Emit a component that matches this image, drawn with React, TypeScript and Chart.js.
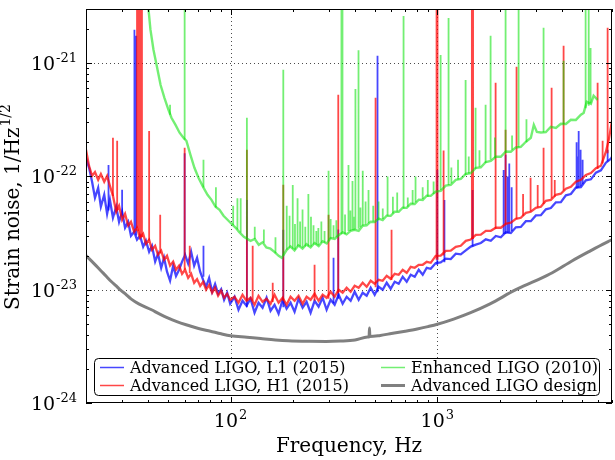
import React, { useEffect, useRef } from 'react';
import { Chart, registerables } from 'chart.js';

Chart.register(...registerables);

const SERIF = '"DejaVu Serif", "Liberation Serif", serif';

// ---- axes ----
const freqMin = 20;
const freqMax = 7000;
const asdMin = 1e-24;
const asdMax = 3e-21;

const xMajorTicks = [100, 1000];
const xMajorExp = ['2', '3'];
const xMinorTicks = [20, 30, 40, 50, 60, 70, 80, 90, 200, 300, 400, 500, 600, 700, 800, 900, 2000, 3000, 4000, 5000, 6000, 7000];
const yMajorTicks = [1e-24, 1e-23, 1e-22, 1e-21];
const yMajorExp = ['-24', '-23', '-22', '-21'];
const yMinorTicks = [
  2e-24, 3e-24, 4e-24, 5e-24, 6e-24, 7e-24, 8e-24, 9e-24,
  2e-23, 3e-23, 4e-23, 5e-23, 6e-23, 7e-23, 8e-23, 9e-23,
  2e-22, 3e-22, 4e-22, 5e-22, 6e-22, 7e-22, 8e-22, 9e-22,
  2e-21, 3e-21,
];

const xTitle = 'Frequency, Hz';
const yTitle = 'Strain noise, 1/Hz';
const yTitleSup = '1/2';

const seriesLabels = ['Advanced LIGO, L1 (2015)', 'Advanced LIGO, H1 (2015)', 'Enhanced LIGO (2010)', 'Advanced LIGO design'];

// ---- Advanced LIGO L1, 2015 ----
const l1Hz = [
  20.0, 20.7, 21.4, 22.1, 22.9, 23.6, 24.5, 25.3, 26.1, 27.0, 28.0, 28.9, 29.9, 30.9, 32.0, 33.0, 34.2, 35.3, 36.5, 37.8,
  39.0, 40.4, 41.7, 43.2, 44.6, 46.2, 47.7, 49.3, 51.0, 52.8, 54.5, 56.4, 58.3, 60.3, 62.4, 64.5, 66.7, 68.9, 71.3, 73.7,
  76.2, 78.8, 81.5, 84.2, 87.1, 90.1, 93.1, 96.3, 99.6,
  104.6, 109.3, 114.3, 119.5, 125.0, 130.7, 136.6, 142.9, 149.4, 156.2, 163.3, 170.8, 178.6, 186.7, 195.2, 204.1, 213.4,
  223.2, 233.3, 244.0, 255.1, 266.7, 278.9, 291.6, 305.0, 318.9, 333.4, 348.6, 364.5, 381.1, 398.5, 416.7, 435.7, 455.5,
  476.3, 498.0, 520.7, 544.5, 569.3, 595.3, 622.4, 650.8, 680.5, 711.5, 744.0, 777.9, 813.4, 850.5, 889.2, 929.8,
  983, 1039, 1099, 1162, 1229, 1299, 1374, 1452, 1536, 1624, 1717, 1815, 1919, 2029, 2146, 2269, 2399, 2536, 2682, 2835,
  2998, 3170, 3351, 3543, 3747, 3961, 4188, 4428, 4682, 4951, 5234, 5534, 5852, 6187, 6542, 6917, 7000,
];
const l1Asd = [
  1.46e-22, 1.19e-22, 8.96e-23, 6.47e-23, 7.93e-23, 5.39e-23, 6.88e-23, 4.67e-23, 6.21e-23, 4.31e-23, 5.39e-23, 3.97e-23,
  4.87e-23, 3.52e-23, 3.97e-23, 2.99e-23, 3.24e-23, 2.76e-23, 2.99e-23, 2.39e-23, 2.70e-23, 2.16e-23, 2.44e-23, 1.77e-23,
  2.07e-23, 1.56e-23, 1.91e-23, 1.44e-23, 1.20e-23, 1.63e-23, 1.32e-23, 1.50e-23, 1.77e-23, 2.03e-23, 1.70e-23, 2.16e-23,
  1.63e-23, 1.91e-23, 1.44e-23, 1.22e-23, 1.06e-23, 1.27e-23, 9.58e-24, 1.12e-23, 9.20e-24, 1.01e-23, 8.15e-24, 9.39e-24,
  7.51e-24,
  8.66e-24, 6.65e-24, 7.98e-24, 7.21e-24, 8.32e-24, 6.26e-24, 7.67e-24, 6.93e-24, 8.49e-24, 6.52e-24, 7.36e-24, 6.13e-24,
  8.15e-24, 6.79e-24, 7.67e-24, 6.39e-24, 8.32e-24, 6.93e-24, 7.82e-24, 6.26e-24, 7.98e-24, 7.07e-24, 8.49e-24, 6.65e-24,
  8.15e-24, 7.36e-24, 9.02e-24, 7.51e-24, 8.66e-24, 7.98e-24, 9.59e-24, 8.15e-24, 9.39e-24, 8.84e-24, 1.04e-23, 9.02e-24,
  1.061e-23, 9.98e-24, 1.151e-23, 1.019e-23, 1.175e-23, 1.128e-23, 1.30e-23, 1.175e-23, 1.354e-23, 1.30e-23, 1.499e-23,
  1.354e-23, 1.561e-23, 1.53e-23,
  1.72e-23, 1.74e-23, 1.88e-23, 1.86e-23, 2.08e-23, 2.05e-23, 2.22e-23, 2.40e-23, 2.50e-23, 2.58e-23, 2.78e-23, 2.70e-23,
  2.98e-23, 2.90e-23, 3.22e-23, 3.16e-23, 3.55e-23, 3.58e-23, 4.02e-23, 4.02e-23, 4.52e-23, 4.55e-23, 5.12e-23, 5.25e-23,
  5.90e-23, 5.92e-23, 6.80e-23, 6.98e-23, 7.98e-23, 8.05e-23, 9.22e-23, 9.42e-23, 1.08e-22, 1.13e-22, 1.32e-22, 1.43e-22,
  1.49e-22,
];
// narrow spectral lines: frequency, floor, peak
const l1LineHz = [25.7, 29.9, 34.3, 35.0, 60, 74, 120, 180, 315, 332, 514, 1000, 1083, 1482, 2094, 2140, 2190, 2230, 2290, 4719, 4780, 4830, 4935, 5047, 6667];
const l1LineFloor = [5.0e-23, 4.5e-23, 3.2e-23, 3.0e-23, 2.0e-23, 1.3e-23, 7.0e-24, 7.0e-24, 7.6e-24, 8.3e-24, 9.5e-24, 1.65e-23, 1.75e-23, 2.4e-23, 3.1e-23, 3.1e-23, 3.15e-23, 3.2e-23, 3.3e-23, 7.8e-23, 7.9e-23, 8.0e-23, 8.2e-23, 8.5e-23, 1.35e-22];
const l1LinePeak = [1.26e-22, 7.62e-23, 1.97e-21, 1.74e-21, 1.6e-22, 2.44e-23, 6.2e-23, 3.38e-23, 1.91e-23, 3.4e-23, 1.16e-21, 1.14e-22, 6.2e-23, 7.6e-23, 1.14e-22, 1.55e-22, 1.0e-22, 1.30e-22, 8.0e-23, 2.0e-22, 1.5e-22, 2.52e-22, 1.72e-22, 1.40e-22, 1.72e-22];

// ---- Advanced LIGO H1, 2015 ----
const h1Hz = [
  20.0, 20.7, 21.4, 22.1, 22.9, 23.6, 24.5, 25.3, 26.1, 27.0, 28.0, 28.9, 29.9, 30.9, 32.0, 33.0, 34.2, 35.3, 36.5, 37.8,
  39.0, 40.4, 41.7, 43.2, 44.6, 46.2, 47.7, 49.3, 51.0, 52.8, 54.5, 56.4, 58.3, 60.3, 62.4, 64.5, 66.7, 68.9, 71.3, 73.7,
  76.2, 78.8, 81.5, 84.2, 87.1, 90.1, 93.1, 96.3, 99.6,
  104.6, 109.3, 114.3, 119.5, 125.0, 130.7, 136.6, 142.9, 149.4, 156.2, 163.3, 170.8, 178.6, 186.7, 195.2, 204.1, 213.4,
  223.2, 233.3, 244.0, 255.1, 266.7, 278.9, 291.6, 305.0, 318.9, 333.4, 348.6, 364.5, 381.1, 398.5, 416.7, 435.7, 455.5,
  476.3, 498.0, 520.7, 544.5, 569.3, 595.3, 622.4, 650.8, 680.5, 711.5, 744.0, 777.9, 813.4, 850.5, 889.2, 929.8,
  983, 1039, 1099, 1162, 1229, 1299, 1374, 1452, 1536, 1624, 1717, 1815, 1919, 2029, 2146, 2269, 2399, 2536, 2682, 2835,
  2998, 3170, 3351, 3543, 3747, 3961, 4188, 4428, 4682, 4951, 5234, 5534, 5852, 6187, 6542, 6750, 7000,
];
const h1Asd = [
  1.72e-22, 1.23e-22, 1.01e-22, 1.09e-22, 9.33e-23, 1.05e-22, 8.96e-23, 1.01e-22, 8.26e-23, 6.74e-23, 4.87e-23, 5.50e-23,
  4.14e-23, 4.67e-23, 3.67e-23, 3.97e-23, 3.24e-23, 3.52e-23, 2.87e-23, 3.12e-23, 2.54e-23, 2.76e-23, 2.25e-23, 2.44e-23,
  2.03e-23, 2.21e-23, 1.84e-23, 1.99e-23, 1.63e-23, 1.77e-23, 1.50e-23, 1.63e-23, 1.38e-23, 1.50e-23, 1.27e-23, 1.38e-23,
  1.15e-23, 1.24e-23, 1.08e-23, 1.17e-23, 9.98e-24, 1.10e-23, 9.39e-24, 1.04e-23, 8.84e-24, 9.78e-24, 8.49e-24, 9.20e-24,
  8.15e-24,
  8.66e-24, 7.67e-24, 9.02e-24, 7.98e-24, 8.49e-24, 7.36e-24, 8.84e-24, 7.82e-24, 8.32e-24, 7.51e-24, 9.02e-24, 7.67e-24,
  8.49e-24, 7.36e-24, 8.66e-24, 7.98e-24, 8.84e-24, 7.51e-24, 8.66e-24, 8.15e-24, 9.20e-24, 7.98e-24, 9.02e-24, 8.49e-24,
  9.59e-24, 8.66e-24, 9.98e-24, 9.39e-24, 1.04e-23, 9.59e-24, 1.083e-23, 1.04e-23, 1.151e-23, 1.061e-23, 1.199e-23,
  1.128e-23, 1.223e-23, 1.199e-23, 1.327e-23, 1.248e-23, 1.382e-23, 1.354e-23, 1.499e-23, 1.41e-23, 1.593e-23, 1.561e-23,
  1.659e-23, 1.659e-23, 1.763e-23, 1.727e-23,
  1.99e-23, 2.00e-23, 2.20e-23, 2.21e-23, 2.39e-23, 2.44e-23, 2.70e-23, 2.77e-23, 3.05e-23, 3.06e-23, 3.31e-23, 3.31e-23,
  3.52e-23, 3.52e-23, 3.82e-23, 3.90e-23, 4.22e-23, 4.31e-23, 4.76e-23, 4.87e-23, 5.27e-23, 5.39e-23, 6.09e-23, 6.21e-23,
  6.88e-23, 7.03e-23, 7.77e-23, 8.10e-23, 8.96e-23, 9.33e-23, 1.03e-22, 1.07e-22, 1.18e-22, 1.24e-22, 1.65e-22, 2.10e-22,
  3.09e-22,
];
const h1LineHz = [27.0, 28.3, 35.3, 35.9, 36.4, 36.9, 37.3, 40.4, 45.7, 60, 63.5, 120, 128, 160, 180, 255, 298, 332, 503, 601, 992, 1003, 1073, 1470, 1490, 1915, 2140, 2418, 2600, 2827, 3060, 3267, 3573, 3700, 4083, 5964, 6305, 6667];
const h1LineFloor = [6.7e-23, 5.0e-23, 3.5e-23, 3.3e-23, 3.0e-23, 2.9e-23, 2.9e-23, 2.7e-23, 2.1e-23, 1.5e-23, 1.4e-23, 8.0e-24, 8.0e-24, 7.8e-24, 8.0e-24, 8.0e-24, 8.3e-24, 9.3e-24, 1.05e-23, 1.22e-23, 1.84e-23, 1.84e-23, 2.0e-23, 2.8e-23, 2.8e-23, 3.45e-23, 3.75e-23, 4.2e-23, 4.5e-23, 4.9e-23, 5.3e-23, 5.7e-23, 6.4e-23, 6.6e-23, 7.5e-23, 1.16e-22, 1.3e-22, 1.6e-22];
const h1LinePeak = [2.19e-22, 2.06e-22, 5e-21, 5e-21, 5e-21, 5e-21, 5e-21, 2.52e-22, 4.58e-23, 1.79e-22, 2.44e-23, 1.72e-22, 2.44e-23, 1.15e-23, 8.43e-23, 1.66e-23, 4.58e-23, 5.25e-22, 4.94e-22, 3.38e-23, 5e-21, 5e-21, 1.69e-22, 5e-21, 5e-21, 6.70e-22, 2.58e-22, 9.27e-22, 7.0e-23, 9.73e-23, 8.4e-23, 1.79e-22, 6.05e-22, 9.3e-23, 1.42e-21, 6.70e-22, 2.06e-22, 2.05e-21];

// ---- Enhanced LIGO, 2010 ----
const s6Hz = [
  39.5, 41.0, 42.4, 43.9, 45.9, 47.9, 50.1, 51.8, 54.2, 56.7, 59.2, 61.2, 64.0, 66.9, 70.0, 74.0, 77.4, 80.9, 84.6, 88.5,
  92.5, 96.7, 101, 106, 110, 116, 125, 131, 137, 143, 149, 156, 163, 171, 177, 187, 195, 204, 213, 223, 233, 244, 255,
  267, 279, 292, 305, 319, 333, 349, 364, 381, 398.5, 416.7, 435.7, 455.5, 476.3, 498, 520.7, 544.5, 569.3, 595.3, 622.4,
  650.8, 680.5, 711.5, 744, 777.9, 813.4, 850.5, 889.2, 929.8, 983, 1039, 1099, 1162, 1229, 1299, 1374, 1452, 1536, 1624,
  1717, 1815, 1919, 2029, 2146, 2269, 2399, 2536, 2682, 2835, 2931, 3032, 3170, 3351, 3543, 3747, 3961, 4188, 4428, 4682,
  4951, 5104, 5284, 5534, 5704, 5964,
];
const s6Asd = [
  4.0e-21, 1.97e-21, 1.31e-21, 9.6e-22, 6.4e-22, 4.94e-22, 3.87e-22, 3.29e-22, 2.85e-22, 2.43e-22, 2.19e-22, 2.06e-22,
  1.55e-22, 1.19e-22, 9.73e-23, 7.96e-23, 6.88e-23, 6.21e-23, 5.39e-23, 5.07e-23, 4.49e-23, 4.14e-23, 3.82e-23, 3.52e-23,
  3.24e-23, 2.93e-23, 2.70e-23, 2.80e-23, 2.49e-23, 2.62e-23, 2.36e-23, 2.30e-23, 2.16e-23, 1.99e-23, 1.91e-23, 2.25e-23,
  2.41e-23, 2.22e-23, 2.46e-23, 2.30e-23, 2.52e-23, 2.36e-23, 2.58e-23, 2.42e-23, 2.68e-23, 2.56e-23, 2.85e-23, 2.80e-23,
  3.02e-23, 3.20e-23, 3.08e-23, 3.30e-23, 3.38e-23, 3.30e-23, 3.67e-23, 3.70e-23, 3.98e-23, 3.96e-23, 4.24e-23, 4.12e-23,
  4.50e-23, 4.48e-23, 4.88e-23, 4.86e-23, 5.29e-23, 5.27e-23, 5.74e-23, 5.71e-23, 6.23e-23, 6.20e-23, 6.76e-23, 6.73e-23,
  7.33e-23, 7.45e-23, 8.28e-23, 8.41e-23, 9.33e-23, 9.51e-23, 1.05e-22, 1.07e-22, 1.19e-22, 1.20e-22, 1.34e-22, 1.37e-22,
  1.49e-22, 1.49e-22, 1.66e-22, 1.65e-22, 1.80e-22, 1.82e-22, 2.02e-22, 2.19e-22, 2.85e-22, 2.47e-22, 2.44e-22, 2.46e-22,
  2.74e-22, 2.68e-22, 2.91e-22, 2.90e-22, 3.16e-22, 3.15e-22, 3.50e-22, 3.63e-22, 4.55e-22, 4.37e-22, 5.15e-22, 4.74e-22,
];
const s6LineHz = [
  51, 60, 74, 85, 103, 108, 112, 120, 131, 145, 165, 180, 187, 193, 200, 205, 211, 217, 223, 230, 238, 245, 252, 260, 266,
  275, 285, 298, 305, 315, 325, 344, 348, 358, 372, 380, 389, 395, 402, 416, 425, 436, 450, 465, 490, 520, 545, 575, 610,
  640, 687, 720, 760, 785, 850, 900, 960, 1038, 1134, 1170, 1260, 1371, 1420, 1532, 1600, 1713, 1811, 1900, 2140, 2300,
  2474, 2700, 3267, 4083, 5218, 5400, 5514,
];
const s6LineFloor = [
  3.5e-22, 2.1e-22, 7.96e-23, 5.3e-23, 3.7e-23, 3.4e-23, 3.2e-23, 2.8e-23, 2.8e-23, 2.6e-23, 2.1e-23, 2.0e-23, 2.25e-23,
  2.35e-23, 2.3e-23, 2.25e-23, 2.4e-23, 2.4e-23, 2.35e-23, 2.4e-23, 2.4e-23, 2.4e-23, 2.5e-23, 2.5e-23, 2.45e-23, 2.6e-23,
  2.6e-23, 2.7e-23, 2.8e-23, 2.85e-23, 2.9e-23, 3.1e-23, 3.2e-23, 3.1e-23, 3.3e-23, 3.3e-23, 3.35e-23, 3.35e-23, 3.4e-23,
  3.45e-23, 3.55e-23, 3.67e-23, 3.75e-23, 3.85e-23, 4.0e-23, 4.1e-23, 4.2e-23, 4.5e-23, 4.7e-23, 4.9e-23, 5.2e-23, 5.4e-23,
  5.7e-23, 5.9e-23, 6.3e-23, 6.6e-23, 7.0e-23, 7.6e-23, 8.4e-23, 8.7e-23, 9.4e-23, 1.03e-22, 1.06e-22, 1.16e-22, 1.21e-22,
  1.31e-22, 1.40e-22, 1.45e-22, 1.62e-22, 1.72e-22, 1.80e-22, 2.0e-22, 2.45e-22, 2.9e-22, 4.0e-22, 4.2e-22, 4.4e-22,
];
const s6LinePeak = [
  4.28e-22, 5e-21, 1.40e-22, 8.0e-23, 5.5e-23, 6.4e-23, 6.4e-23, 3.29e-22, 3.6e-23, 3.4e-23, 2.9e-23, 8.73e-22, 5.5e-23,
  4.5e-23, 8.4e-23, 3.8e-23, 6.4e-23, 4.0e-23, 5.1e-23, 3.6e-23, 7.0e-23, 4.4e-23, 3.7e-23, 3.3e-23, 3.5e-23, 4.0e-23,
  3.3e-23, 1.12e-22, 4.2e-23, 3.7e-23, 4.1e-23, 5e-21, 5e-21, 4.6e-23, 1.26e-22, 5.0e-23, 9.1e-23, 4.4e-23, 5.9e-22,
  1.3e-21, 5.3e-23, 1.12e-22, 6.0e-23, 7.6e-23, 5.5e-23, 6.0e-23, 5.2e-23, 1.0e-22, 6.6e-23, 7.2e-23, 2.6e-21, 6.5e-23,
  7.6e-23, 1.0e-22, 8.0e-23, 9.3e-23, 9.0e-23, 1.18e-21, 2.5e-21, 1.2e-22, 1.4e-22, 7.1e-22, 1.5e-22, 4.04e-22, 1.7e-22,
  4.28e-22, 1.74e-21, 2.2e-22, 5e-21, 2.3e-22, 5e-21, 3.2e-22, 2.05e-21, 1.05e-21, 5e-21, 5e-21, 1.36e-21,
];

// ---- Advanced LIGO design sensitivity ----
const designHz = [20, 22, 23.6, 25, 26.5, 28, 29.2, 31, 33, 36, 41.5, 45, 50, 55, 61, 70, 80, 90, 100, 120, 140, 165, 190, 240, 290, 340, 400, 460, 468, 470, 472, 530, 600, 700, 800, 900, 1000, 1200, 1450, 1800, 2400, 3000, 3600, 4500, 5500, 6700, 7000];
const designAsd = [2.0e-23, 1.68e-23, 1.47e-23, 1.32e-23, 1.18e-23, 1.08e-23, 1.0e-23, 9.2e-24, 8.3e-24, 7.5e-24, 6.65e-24, 6.15e-24, 5.6e-24, 5.22e-24, 4.9e-24, 4.55e-24, 4.3e-24, 4.08e-24, 3.92e-24, 3.8e-24, 3.7e-24, 3.6e-24, 3.54e-24, 3.5e-24, 3.49e-24, 3.52e-24, 3.6e-24, 3.82e-24, 3.84e-24, 4.6e-24, 3.86e-24, 3.95e-24, 4.1e-24, 4.3e-24, 4.5e-24, 4.72e-24, 4.95e-24, 5.5e-24, 6.27e-24, 7.5e-24, 1.0e-23, 1.2e-23, 1.41e-23, 1.8e-23, 2.2e-23, 2.66e-23, 2.75e-23];

const colors = {
  l1: 'rgba(0,0,255,0.72)',
  h1: 'rgba(255,0,0,0.72)',
  s6: 'rgba(0,225,0,0.55)',
  design: 'rgb(128,128,128)',
};

type Pt = { x: number; y: number | null };
const curve = (hz: number[], asd: number[]): Pt[] => hz.map((x, i) => ({ x, y: asd[i] }));
const spectralLines = (hz: number[], floor: number[], peak: number[]): Pt[] =>
  hz.flatMap((x, i) => [
    { x, y: floor[i] },
    { x, y: peak[i] },
    { x, y: null },
  ]);

function drawPower(ctx: CanvasRenderingContext2D, x: number, baseline: number, exp: string, align: 'right' | 'center') {
  ctx.font = `19px ${SERIF}`;
  const wb = ctx.measureText('10').width;
  ctx.font = `13px ${SERIF}`;
  const we = ctx.measureText(exp).width;
  const x0 = align === 'right' ? x - wb - we - 1 : x - (wb + we + 1) / 2;
  ctx.textAlign = 'left';
  ctx.textBaseline = 'alphabetic';
  ctx.font = `19px ${SERIF}`;
  ctx.fillText('10', x0, baseline);
  ctx.font = `13px ${SERIF}`;
  ctx.fillText(exp, x0 + wb + 1, baseline - 8);
}

const axesPlugin = {
  id: 'axesDecor',
  beforeDatasetsDraw(chart: any) {
    const { ctx, chartArea: a, scales } = chart;
    const xs = scales.x;
    const ys = scales.y;
    ctx.save();
    ctx.strokeStyle = 'rgba(0,0,0,0.7)';
    ctx.lineWidth = 1;
    ctx.setLineDash([1, 3]);
    for (const t of xMajorTicks) {
      const px = Math.round(xs.getPixelForValue(t)) + 0.5;
      ctx.beginPath();
      ctx.moveTo(px, a.top);
      ctx.lineTo(px, a.bottom);
      ctx.stroke();
    }
    for (const t of yMajorTicks) {
      const py = Math.round(ys.getPixelForValue(t)) + 0.5;
      if (py <= a.top + 1 || py >= a.bottom - 1) continue;
      ctx.beginPath();
      ctx.moveTo(a.left, py);
      ctx.lineTo(a.right, py);
      ctx.stroke();
    }
    ctx.restore();
  },
  afterDatasetsDraw(chart: any) {
    const { ctx, chartArea: a, scales } = chart;
    const xs = scales.x;
    const ys = scales.y;
    ctx.save();
    ctx.setLineDash([]);
    ctx.strokeStyle = '#000';
    ctx.lineWidth = 1;
    // frame
    ctx.strokeRect(Math.round(a.left) + 0.5, Math.round(a.top) + 0.5, Math.round(a.right - a.left) - 1, Math.round(a.bottom - a.top) - 1);

    // inward ticks on all four sides
    const tickX = (t: number, len: number) => {
      const px = Math.round(xs.getPixelForValue(t)) + 0.5;
      ctx.beginPath();
      ctx.moveTo(px, a.bottom);
      ctx.lineTo(px, a.bottom - len);
      ctx.moveTo(px, a.top);
      ctx.lineTo(px, a.top + len);
      ctx.stroke();
    };
    const tickY = (t: number, len: number) => {
      const py = Math.round(ys.getPixelForValue(t)) + 0.5;
      ctx.beginPath();
      ctx.moveTo(a.left, py);
      ctx.lineTo(a.left + len, py);
      ctx.moveTo(a.right, py);
      ctx.lineTo(a.right - len, py);
      ctx.stroke();
    };
    xMinorTicks.forEach((t) => tickX(t, 3));
    xMajorTicks.forEach((t) => tickX(t, 6));
    yMinorTicks.forEach((t) => tickY(t, 3));
    yMajorTicks.forEach((t) => tickY(t, 6));

    // tick labels
    ctx.fillStyle = '#000';
    xMajorTicks.forEach((t, i) => drawPower(ctx, xs.getPixelForValue(t), 427, xMajorExp[i], 'center'));
    yMajorTicks.forEach((t, i) => drawPower(ctx, a.left - 9, ys.getPixelForValue(t) + 7, yMajorExp[i], 'right'));

    // axis titles
    ctx.font = `20px ${SERIF}`;
    ctx.textAlign = 'center';
    ctx.textBaseline = 'alphabetic';
    ctx.fillText(xTitle, (a.left + a.right) / 2, 452);

    ctx.save();
    ctx.translate(19, (a.top + a.bottom) / 2 + 1);
    ctx.rotate(-Math.PI / 2);
    ctx.textAlign = 'left';
    ctx.font = `20px ${SERIF}`;
    const w1 = ctx.measureText(yTitle).width;
    ctx.font = `14px ${SERIF}`;
    const w2 = ctx.measureText(yTitleSup).width;
    const x0 = -(w1 + w2 + 1) / 2;
    ctx.font = `20px ${SERIF}`;
    ctx.fillText(yTitle, x0, 0);
    ctx.font = `14px ${SERIF}`;
    ctx.fillText(yTitleSup, x0 + w1 + 1, -9);
    ctx.restore();

    // legend box
    const bx = 94.5;
    const by = 358.5;
    const bw = 505;
    const bh = 37;
    ctx.beginPath();
    ctx.roundRect(bx, by, bw, bh, 4);
    ctx.fillStyle = '#fff';
    ctx.fill();
    ctx.strokeStyle = '#000';
    ctx.lineWidth = 1;
    ctx.stroke();

    const items = [
      { label: seriesLabels[0], color: colors.l1, width: 1.5, col: 0, row: 0 },
      { label: seriesLabels[1], color: colors.h1, width: 1.5, col: 0, row: 1 },
      { label: seriesLabels[2], color: colors.s6, width: 1.5, col: 1, row: 0 },
      { label: seriesLabels[3], color: colors.design, width: 3, col: 1, row: 1 },
    ];
    const colX = [100, 381];
    const rowBase = [373, 391];
    ctx.font = `16px ${SERIF}`;
    ctx.textAlign = 'left';
    for (const it of items) {
      const lx = colX[it.col];
      const base = rowBase[it.row];
      ctx.strokeStyle = it.color;
      ctx.lineWidth = it.width;
      ctx.beginPath();
      ctx.moveTo(lx, base - 5.5);
      ctx.lineTo(lx + 24, base - 5.5);
      ctx.stroke();
      ctx.fillStyle = '#000';
      ctx.fillText(it.label, lx + 30, base);
    }
    ctx.restore();
  },
};

export default function App() {
  const canvasRef = useRef<HTMLCanvasElement>(null);

  useEffect(() => {
    const canvas = canvasRef.current;
    if (!canvas) return;
    const lineStyle = { pointRadius: 0, tension: 0, fill: false, clip: 0, borderCapStyle: 'butt' as const, borderJoinStyle: 'miter' as const };
    const chart = new Chart(canvas, {
      type: 'line',
      data: {
        datasets: [
          { label: seriesLabels[0], data: curve(l1Hz, l1Asd), borderColor: colors.l1, borderWidth: 2.3, order: 7, ...lineStyle },
          { label: 'L1 lines', data: spectralLines(l1LineHz, l1LineFloor, l1LinePeak), borderColor: colors.l1, borderWidth: 1.8, order: 6, ...lineStyle },
          { label: seriesLabels[1], data: curve(h1Hz, h1Asd), borderColor: colors.h1, borderWidth: 2.3, order: 5, ...lineStyle },
          { label: 'H1 lines', data: spectralLines(h1LineHz, h1LineFloor, h1LinePeak), borderColor: colors.h1, borderWidth: 1.8, order: 4, ...lineStyle },
          { label: seriesLabels[2], data: curve(s6Hz, s6Asd), borderColor: colors.s6, borderWidth: 2.4, order: 3, ...lineStyle },
          { label: 'S6 lines', data: spectralLines(s6LineHz, s6LineFloor, s6LinePeak), borderColor: colors.s6, borderWidth: 1.8, order: 2, ...lineStyle },
          {
            label: seriesLabels[3],
            data: curve(designHz, designAsd),
            borderColor: colors.design,
            borderWidth: 3,
            order: 1,
            ...lineStyle,
            borderJoinStyle: 'round' as const,
            cubicInterpolationMode: 'monotone' as const,
          },
        ] as any,
      },
      options: {
        responsive: false,
        devicePixelRatio: 1,
        animation: false,
        events: [],
        spanGaps: false,
        layout: { padding: { left: 86, top: 9, right: 3, bottom: 57 } },
        scales: {
          x: { type: 'logarithmic', min: freqMin, max: freqMax, display: false },
          y: { type: 'logarithmic', min: asdMin, max: asdMax, display: false },
        },
        plugins: {
          legend: { display: false },
          tooltip: { enabled: false },
        },
      },
      plugins: [axesPlugin],
    });
    return () => chart.destroy();
  }, []);

  return (
    <div style={{ position: 'fixed', left: 0, top: 0, width: 615, height: 460, background: '#fff' }}>
      <canvas ref={canvasRef} width={615} height={460} style={{ display: 'block', width: 615, height: 460 }} />
    </div>
  );
}
